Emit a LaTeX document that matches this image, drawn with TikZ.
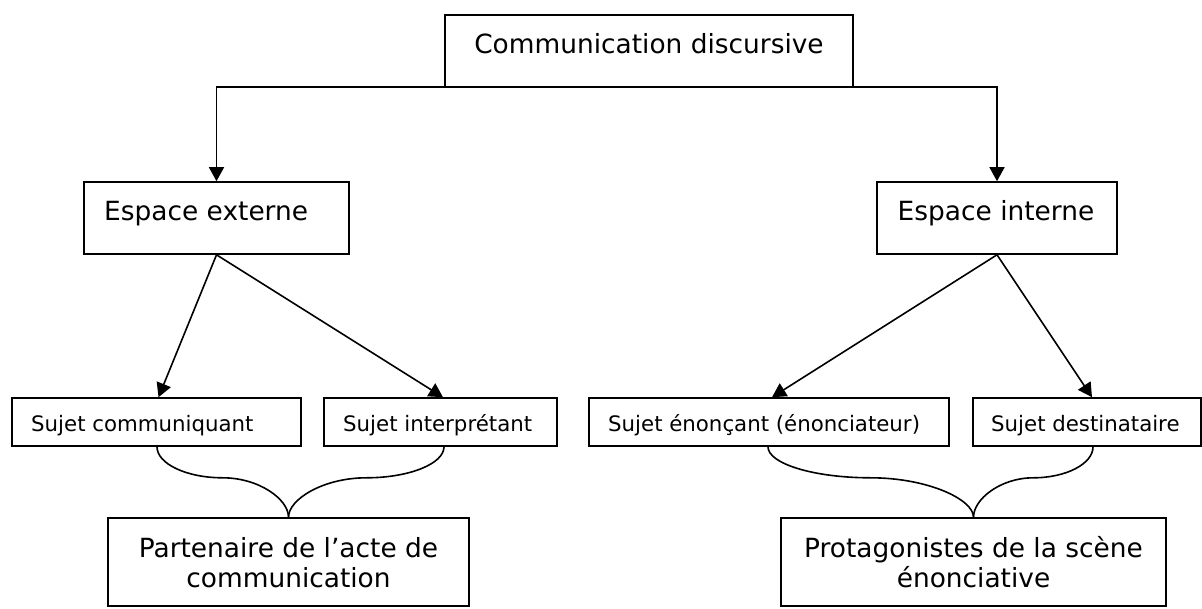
\documentclass[tikz,border=0pt]{standalone}
\usepackage{fontspec}
\setmainfont{DejaVu Sans}
\usetikzlibrary{arrows.meta,calc}

% one half of a curly brace: from an upper box down to the tip on a lower box
\newcommand{\bracehalf}[2]{%
  \draw[brace] let \p1=(#1), \p2=(#2),
      \n1={0.5*(\x1+\x2)}, \n2={0.275*(\x2-\x1)} in
    (\p1) .. controls (\x1,{\y1-17pt}) and ({(\n1-\n2)*1pt},{\y1-31pt})
          .. ({\n1*1pt},{\y1-31pt})
          .. controls ({(\n1+\n2)*1pt},{\y1-31pt}) and (\x2,{\y2+18pt})
          .. (\p2);%
}

\begin{document}
\begin{tikzpicture}[x=1pt,y=-1pt,
  box/.style={draw, line width=1.6pt, rectangle, inner sep=0pt},
  big/.style={font=\fontsize{26.4}{30}\selectfont, inner sep=0pt},
  small/.style={font=\fontsize{21.3}{25}\selectfont, inner sep=0pt},
  link/.style={line width=1.6pt, -{Triangle[length=14pt,width=15pt]}},
  brace/.style={line width=1.6pt},
]
\useasboundingbox (0,0) rectangle (1202,608);

% boxes
\node[box, minimum width=408pt, minimum height=72pt] (top) at (649,51) {};
\node[box, minimum width=265pt, minimum height=72pt] (ext) at (216.5,218) {};
\node[box, minimum width=240pt, minimum height=72pt] (int) at (997,218) {};
\node[box, minimum width=289pt, minimum height=48pt] (sc) at (156.5,422) {};
\node[box, minimum width=233pt, minimum height=48pt] (si) at (440.5,422) {};
\node[box, minimum width=360pt, minimum height=48pt] (se) at (769,422) {};
\node[box, minimum width=228pt, minimum height=48pt] (sd) at (1087,422) {};
\node[box, minimum width=361pt, minimum height=88pt] (pa) at (288.5,562) {};
\node[box, minimum width=385pt, minimum height=88pt] (pr) at (973.5,562) {};

% labels
\node[big, anchor=base] (topT) at (649,53) {Communication discursive};
\node[big, anchor=base west] (extT) at (104,220) {Espace externe};
\node[big, anchor=base] (intT) at (996,220) {Espace interne};
\node[small, anchor=base west] (scT) at (31,431) {Sujet communiquant};
\node[small, anchor=base west] (siT) at (343,431) {Sujet interprétant};
\node[small, anchor=base west] (seT) at (608,431) {Sujet énonçant (énonciateur)};
\node[small, anchor=base west] (sdT) at (991,431) {Sujet destinataire};
\node[big, anchor=base] (paT1) at (288.5,557) {Partenaire de l’acte de};
\node[big, anchor=base] (paT2) at (288.5,587) {communication};
\node[big, anchor=base] (prT1) at (973.5,557) {Protagonistes de la scène};
\node[big, anchor=base] (prT2) at (973.5,587) {énonciative};

% arrows
\draw[link] ([yshift=1pt]top.south west) -| (ext.north);
\draw[link] ([yshift=1pt]top.south east) -| (int.north);
\draw[link] (ext.south) -- ([xshift=2pt]sc.north);
\draw[link] (ext.south) -- ([xshift=2.5pt]si.north);
\draw[link] (int.south) -- ([xshift=3pt]se.north);
\draw[link] (int.south) -- ([xshift=5pt]sd.north);

% braces
\bracehalf{[xshift=0.5pt]sc.south}{pa.north}
\bracehalf{[xshift=3.5pt]si.south}{pa.north}
\bracehalf{[xshift=-1pt]se.south}{pr.north}
\bracehalf{[xshift=6pt]sd.south}{pr.north}
\end{tikzpicture}
\end{document}
